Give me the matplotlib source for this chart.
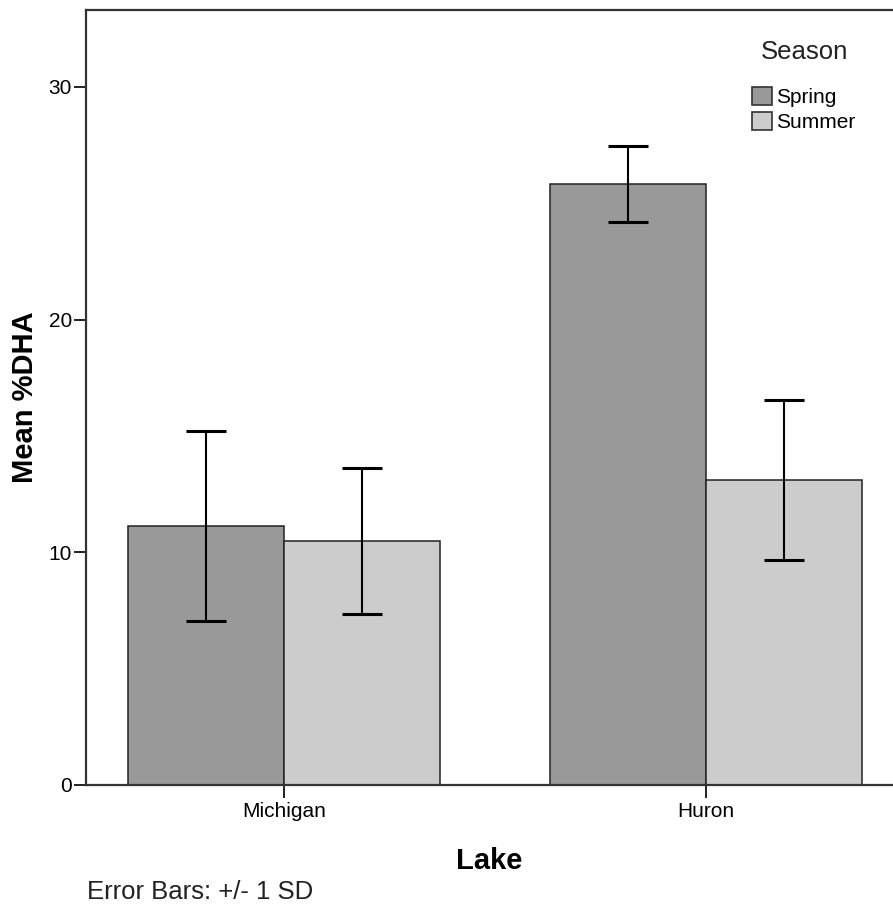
import numpy as np
import matplotlib
matplotlib.use("Agg")
import matplotlib.pyplot as plt

plt.rcParams['font.family'] = ['Liberation Sans', 'DejaVu Sans']

# values
lakes = ['Michigan', 'Huron']
seasons = ['Spring', 'Summer']
spring_mean = [11.13, 25.83]
spring_sd = [4.1, 1.63]
summer_mean = [10.49, 13.1]
summer_sd = [3.14, 3.44]

colors = ['#999999', '#cccccc']
edge = '#222222'

fig = plt.figure(figsize=(8.93, 9.07), dpi=100)
ax = fig.add_axes([86/893, 1-785/907, 1-86/893, (785-10)/907])

x = np.arange(len(lakes))
w = 0.37

means = [spring_mean, summer_mean]
sds = [spring_sd, summer_sd]
for i in range(2):
    pos = x + (i - 0.5) * w
    ax.bar(pos, means[i], width=w, color=colors[i], edgecolor=edge,
           linewidth=1.1, label=seasons[i], zorder=2)
    ax.errorbar(pos, means[i], yerr=sds[i], fmt='none', ecolor='black',
                elinewidth=1.5, capsize=14.4, capthick=2.2, zorder=3)

ax.set_xlim(-0.469, 1.443)
ax.set_ylim(0, 33.3)
ax.set_yticks([0, 10, 20, 30])
ax.set_xticks(x)
ax.set_xticklabels(lakes)

for s in ['left', 'bottom', 'top']:
    ax.spines[s].set_color('#333333')
    ax.spines[s].set_linewidth(1.6)
ax.spines['right'].set_visible(False)

ax.tick_params(axis='both', direction='out', length=9, width=1.4,
               color='#222222', labelsize=15, pad=1)
ax.tick_params(axis='x', pad=3)

ax.set_ylabel('Mean %DHA', fontsize=21, fontweight='bold', labelpad=7)
ax.set_xlabel('Lake', fontsize=21, fontweight='bold', labelpad=19)

leg = ax.legend(loc='upper left',
                bbox_to_anchor=(752/893, 1-87/907), bbox_transform=fig.transFigure,
                frameon=False, fontsize=15,
                handlelength=0.95, handleheight=0.95, handletextpad=0.2,
                labelspacing=0.25, borderpad=0, borderaxespad=0)
for h in leg.legend_handles:
    h.set_edgecolor('#333333')
    h.set_linewidth(1.2)
fig.text(805/893, 1-52/907, 'Season', fontsize=18.5, ha='center', va='center',
         color='#222222')

fig.text(87/893, 1-892/907, 'Error Bars: +/- 1 SD', fontsize=18.5,
         va='center', ha='left', color='#222222')

fig.savefig('out.png', dpi=100)
